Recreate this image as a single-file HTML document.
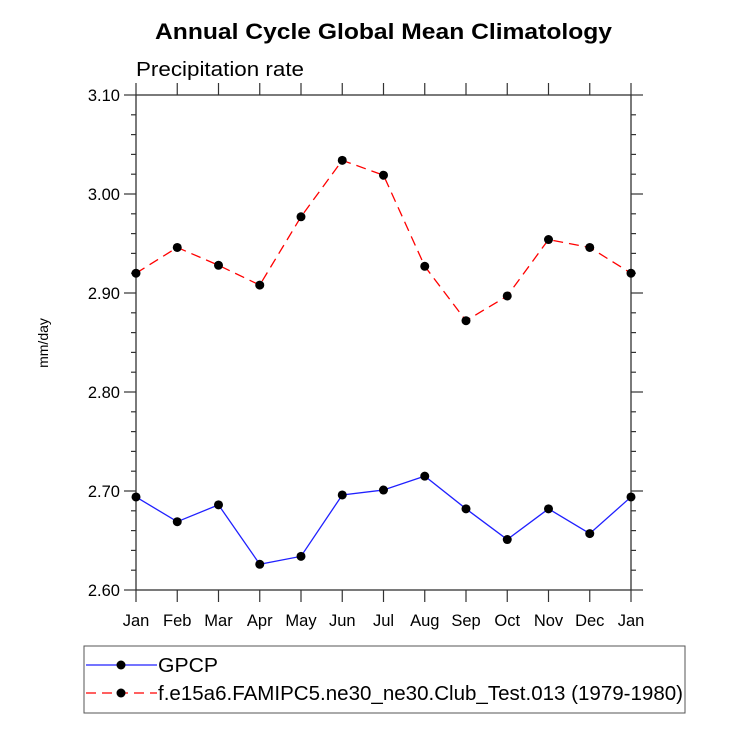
<!DOCTYPE html>
<html><head><meta charset="utf-8"><style>
body{margin:0;background:#fff}
svg text{font-family:"Liberation Sans",sans-serif;fill:#000}
</style></head><body>
<svg id="c" width="732" height="732" viewBox="0 0 732 732" xmlns="http://www.w3.org/2000/svg">
<text x="155" y="39" font-size="22" font-weight="bold" textLength="457" lengthAdjust="spacingAndGlyphs">Annual Cycle Global Mean Climatology</text>
<text x="136" y="76" font-size="20" textLength="168" lengthAdjust="spacingAndGlyphs">Precipitation rate</text>
<text transform="translate(48,343) rotate(-90)" font-size="14" text-anchor="middle">mm/day</text>
<g id="axes"></g>
<g id="series"></g>
<rect x="84" y="646" width="601" height="67" fill="none" stroke="#555" stroke-width="1"/>
<g>
<line x1="86" y1="665" x2="157" y2="665" stroke="#2020ff" stroke-width="1.3"/>
<circle cx="121" cy="665" r="4.5" fill="#000"/>
<text x="158" y="672" font-size="20" textLength="60" lengthAdjust="spacingAndGlyphs">GPCP</text></g>
<g>
<line x1="86" y1="693" x2="157" y2="693" stroke="#ff0000" stroke-width="1.3" stroke-dasharray="10,6"/>
<circle cx="121" cy="693" r="4.5" fill="#000"/>
<text x="158" y="700" font-size="20" textLength="525" lengthAdjust="spacingAndGlyphs">f.e15a6.FAMIPC5.ne30_ne30.Club_Test.013 (1979-1980)</text></g>
</svg>
<script>
const months=["Jan","Feb","Mar","Apr","May","Jun","Jul","Aug","Sep","Oct","Nov","Dec","Jan"];
const gpcp=[2.694,2.669,2.686,2.626,2.634,2.696,2.701,2.715,2.682,2.651,2.682,2.657,2.694];
const model=[2.920,2.946,2.928,2.908,2.977,3.034,3.019,2.927,2.872,2.897,2.954,2.946,2.920];
const yTicks=["2.60","2.70","2.80","2.90","3.00","3.10"];
const NS="http://www.w3.org/2000/svg";
const L=136,R=631,T=95,B=590,ymin=2.6,ymax=3.1;
const xs=i=>L+(R-L)*i/(months.length-1);
const ys=v=>B-(v-ymin)/(ymax-ymin)*(B-T);
function mk(t,a,p){const e=document.createElementNS(NS,t);for(const k in a)e.setAttribute(k,a[k]);p.appendChild(e);return e;}
const ax=document.getElementById('axes'),se=document.getElementById('series');
const frame=mk('rect',{x:L,y:T,width:R-L,height:B-T,fill:'none',stroke:'#333','stroke-width':1.3},ax);


months.forEach((m,i)=>{const x=xs(i);
mk('line',{x1:x,y1:B,x2:x,y2:B+12,stroke:'#333','stroke-width':1.2},ax);
mk('line',{x1:x,y1:T,x2:x,y2:T-12,stroke:'#333','stroke-width':1.2},ax);
const t=mk('text',{x:x,y:B+36,'font-size':16.5,'text-anchor':'middle'},ax);t.textContent=m;

});
for(let k=0;k<=25;k++){const v=ymin+k*0.02,y=ys(v),maj=k%5===0,len=maj?12:5;
mk('line',{x1:L,y1:y,x2:L-len,y2:y,stroke:'#333','stroke-width':1.2},ax);
mk('line',{x1:R,y1:y,x2:R+len,y2:y,stroke:'#333','stroke-width':1.2},ax);}
yTicks.forEach(s=>{const t=mk('text',{x:L-16,y:ys(parseFloat(s))+6,'font-size':16.5,'text-anchor':'end'},ax);t.textContent=s;

});
function draw(vals,color,dash,name){
const pl=mk('polyline',{points:vals.map((v,i)=>xs(i)+','+ys(v)).join(' '),fill:'none',stroke:color,'stroke-width':1.3,'stroke-dasharray':dash},se);


vals.forEach((v,i)=>{const c=mk('circle',{cx:xs(i),cy:ys(v),r:4.5,fill:'#000'},se);

});}
draw(model,'#ff0000','10,6','model');
draw(gpcp,'#2020ff','none','gpcp');
</script>
</body></html>
